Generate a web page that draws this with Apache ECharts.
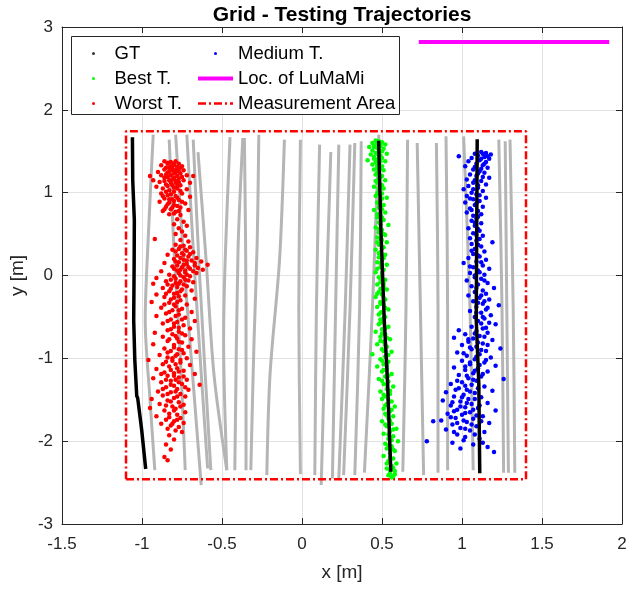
<!DOCTYPE html>
<html><head><meta charset="utf-8">
<script src="https://cdn.jsdelivr.net/npm/echarts@6/dist/echarts.min.js"></script>
<style>html,body{margin:0;padding:0;background:#fff}#chart{width:640px;height:589px}</style>
</head><body><div id="chart"></div><script>
// Axis ranges and ticks
const xTicks = {min: -1.5, max: 2, step: 0.5};
const yTicks = {min: -3, max: 3, step: 1};

// Measurement area corners (x0, x1, y0, y1)
const areaX = [-1.1, 1.4];
const areaY = [-2.46, 1.74];

// LuMaMi antenna array location
const lumamiX = [0.73, 1.92];
const lumamiY = [2.82, 2.82];

// Ground-truth paths
const gtLeft = [[-1.06,1.67],[-1.058,1.15],[-1.048,0.67],[-1.049,0.19],[-1.052,-0.54],[-1.045,-1.02],[-1.033,-1.455],[-1.027,-1.48],[-1.002,-1.865],[-0.977,-2.336]];
const gtBest = [[0.479,1.627],[0.493,0.549],[0.514,-0.537],[0.535,-1.302],[0.555,-2.369]];
const gtMedium = [[1.095,1.644],[1.089,-0.537],[1.105,-1.302],[1.111,-2.388]];

// All other testing trajectories (grey)
const greyTracks = [
  [[-0.93,1.70],[-0.96,0.5],[-0.98,-0.54],[-0.95,-1.5],[-0.92,-2.35]],
  [[-0.83,1.64],[-0.80,0.3],[-0.76,-1.0],[-0.73,-2.35]],
  [[-0.79,1.70],[-0.74,0.2],[-0.68,-1.3],[-0.63,-2.53]],
  [[-0.72,1.70],[-0.67,0.0],[-0.59,-2.33]],
  [[-0.68,1.64],[-0.64,0.0],[-0.57,-2.35]],
  [[-0.65,1.49],[-0.60,0.2],[-0.55,-1.2],[-0.47,-2.35]],
  [[-0.45,1.67],[-0.48,0.2],[-0.49,-0.8],[-0.47,-2.35]],
  [[-0.37,1.66],[-0.40,0.3],[-0.42,-2.35]],
  [[-0.36,1.66],[-0.35,-0.4],[-0.35,-2.35]],
  [[-0.27,1.70],[-0.28,0.4],[-0.30,-0.8],[-0.32,-2.35]],
  [[-0.11,1.64],[-0.14,0.2],[-0.20,-1.2],[-0.22,-2.41]],
  [[-0.01,1.64],[-0.02,-0.4],[-0.01,-2.40]],
  [[0.11,1.58],[0.09,-0.4],[0.08,-2.41]],
  [[0.18,1.49],[0.15,-0.4],[0.12,-2.53]],
  [[0.23,1.58],[0.21,-0.4],[0.19,-2.45]],
  [[0.30,1.58],[0.27,-0.4],[0.23,-2.45]],
  [[0.33,1.60],[0.30,-0.4],[0.26,-2.41]],
  [[0.37,1.62],[0.36,-0.4],[0.33,-2.41]],
  [[0.48,1.70],[0.44,-0.4],[0.39,-2.38]],
  [[0.66,1.64],[0.65,-0.4],[0.63,-2.37]],
  [[0.72,1.60],[0.74,-0.4],[0.76,-2.41]],
  [[0.84,1.60],[0.85,-0.4],[0.85,-2.38]],
  [[0.90,1.68],[0.91,-0.4],[0.91,-2.35]],
  [[1.01,1.68],[1.05,-0.4],[1.07,-2.35]],
  [[1.23,1.64],[1.25,-0.4],[1.26,-2.38]],
  [[1.27,1.62],[1.28,-0.4],[1.29,-2.38]],
  [[1.30,1.64],[1.32,-0.4],[1.33,-2.38]]
];

// Estimated positions, worst trajectory
const worstPts = [
[-0.86,1.38],[-0.82,1.37],[-0.79,1.38],[-0.84,1.35],[-0.77,1.35],[-0.88,1.33],[-0.80,1.33],[-0.75,1.32],[-0.83,1.30],[-0.78,1.29],[-0.86,1.28],[-0.81,1.27],[-0.74,1.27],[-0.90,1.25],[-0.79,1.25],[-0.84,1.24],[-0.76,1.23],[-0.95,1.20],[-0.88,1.21],[-0.82,1.21],[-0.72,1.21],[-0.68,1.20],[-0.86,1.18],[-0.80,1.18],[-0.77,1.17],[-0.93,1.15],[-0.83,1.15],[-0.74,1.15],[-0.89,1.13],[-0.79,1.12],[-0.70,1.12],[-0.85,1.10],[-0.81,1.09],[-0.76,1.09],[-0.91,1.07],[-0.87,1.05],[-0.78,1.05],[-0.72,1.04],[-0.83,1.03],[-0.80,1.01],[-0.88,0.99],[-0.75,0.99],[-0.84,0.97],[-0.79,0.96],[-0.70,0.95],[-0.86,0.93],[-0.81,0.92],[-0.77,0.91],[-0.89,0.89],[-0.83,0.88],[-0.73,0.87],[-0.80,0.85],[-0.85,0.83],[-0.76,0.82],[-0.82,0.80],[-0.71,0.79],[-0.87,0.78],[-0.79,0.77],[-0.83,0.74],[-0.76,0.73],
[-0.78,0.68],[-0.74,0.65],[-0.80,0.62],[-0.72,0.60],[-0.77,0.57],[-0.75,0.53],[-0.79,0.50],[-0.73,0.48],[-0.92,0.44],[-0.76,0.43],[-0.71,0.41],
[-0.79,0.37],[-0.74,0.36],[-0.70,0.34],[-0.77,0.32],[-0.81,0.31],[-0.72,0.30],[-0.68,0.28],[-0.75,0.27],[-0.84,0.25],[-0.78,0.24],[-0.71,0.23],[-0.66,0.21],[-0.80,0.20],[-0.74,0.19],[-0.69,0.18],[-0.63,0.17],[-0.77,0.16],[-0.86,0.15],[-0.72,0.14],[-0.59,0.13],[-0.67,0.12],[-0.81,0.11],[-0.75,0.10],[-0.70,0.08],[-0.62,0.07],[-0.78,0.06],[-0.88,0.05],[-0.73,0.04],[-0.66,0.03],[-0.83,0.01],[-0.76,0.00],[-0.70,-0.01],[-0.91,-0.03],[-0.79,-0.04],[-0.73,-0.05],[-0.85,-0.07],[-0.68,-0.08],[-0.93,-0.10],[-0.77,-0.10],[-0.81,-0.12],[-0.72,-0.13],[-0.87,-0.15],[-0.75,-0.17],[-0.69,-0.18],[-0.83,-0.19],[-0.78,-0.21],[-0.91,-0.23],[-0.73,-0.24],[-0.86,-0.26],[-0.80,-0.27],[-0.67,-0.28],[-0.76,-0.30],
[-0.94,-0.32],[-0.83,-0.33],[-0.72,-0.35],[-0.79,-0.37],[-0.88,-0.39],[-0.75,-0.40],[-0.81,-0.42],[-0.69,-0.44],[-0.85,-0.46],[-0.77,-0.47],[-0.91,-0.49],[-0.73,-0.51],[-0.82,-0.53],[-0.67,-0.55],[-0.78,-0.56],[-0.87,-0.58],[-0.74,-0.60],[-0.80,-0.62],[-0.70,-0.64],[-0.84,-0.66],[-0.77,-0.68],[-0.92,-0.69],
[-0.81,-0.71],[-0.73,-0.72],[-0.87,-0.74],[-0.78,-0.76],[-0.69,-0.77],[-0.84,-0.79],[-0.75,-0.81],[-0.93,-0.83],[-0.80,-0.84],[-0.71,-0.86],[-0.86,-0.88],[-0.77,-0.89],[-0.82,-0.91],[-0.66,-0.92],[-0.74,-0.94],[-0.89,-0.96],[-0.79,-0.97],[-0.84,-0.99],[-0.72,-1.00],[-0.96,-1.02],[-0.81,-1.03],[-0.76,-1.05],[-0.87,-1.07],[-0.70,-1.08],[-0.83,-1.10],[-0.78,-1.12],[-0.91,-1.13],[-0.74,-1.15],[-0.86,-1.17],[-0.80,-1.18],[-0.67,-1.19],[-0.84,-1.21],[-0.77,-1.23],[-0.93,-1.24],[-0.72,-1.26],[-0.82,-1.27],[-0.88,-1.29],[-0.75,-1.31],[-0.64,-1.32],[-0.80,-1.33],[-0.85,-1.35],[-0.78,-1.37],[-0.71,-1.38],[-0.90,-1.40],[-0.82,-1.41],[-0.76,-1.43],[-0.87,-1.45],[-0.73,-1.46],[-0.80,-1.48],[-0.94,-1.49],
[-0.84,-1.51],[-0.77,-1.53],[-0.89,-1.55],[-0.74,-1.56],[-0.81,-1.58],[-0.95,-1.60],[-0.79,-1.61],[-0.86,-1.63],[-0.73,-1.65],[-0.83,-1.67],[-0.78,-1.68],[-0.91,-1.70],[-0.76,-1.72],[-0.85,-1.74],[-0.80,-1.76],[-0.74,-1.78],[-0.88,-1.79],[-0.82,-1.81],[-0.77,-1.83],[-0.84,-1.85],[-0.79,-1.87],[-0.75,-1.89],
[-0.83,-1.93],[-0.80,-1.98],[-0.85,-2.04],[-0.82,-2.10],[-0.86,-2.19],[-0.84,-2.23],
[-0.84,1.36],[-0.80,1.35],[-0.78,1.31],[-0.82,1.32],[-0.85,1.30],[-0.76,1.30],[-0.81,1.29],[-0.79,1.27],[-0.83,1.26],[-0.77,1.26],[-0.85,1.22],[-0.80,1.23],[-0.78,1.20],[-0.84,1.19],[-0.75,1.19],[-0.81,1.16],[-0.79,1.14],[-0.86,1.14],[-0.77,1.13],[-0.82,1.12],[-0.84,1.08],[-0.78,1.08],[-0.80,1.06],[-0.76,1.02],[-0.85,1.01],[-0.82,0.98],[-0.78,0.94],[-0.87,0.96],[-0.83,0.92],[-0.80,0.90],[-0.75,0.89],[-0.84,0.86],[-0.78,0.84],[-0.81,0.82],[-0.86,0.80],[-0.77,0.78],[-0.80,0.75],
[-0.76,0.35],[-0.73,0.31],[-0.79,0.29],[-0.74,0.25],[-0.70,0.26],[-0.76,0.21],[-0.72,0.18],[-0.79,0.17],[-0.67,0.15],[-0.74,0.13],[-0.78,0.12],[-0.71,0.10],[-0.65,0.09],[-0.76,0.07],[-0.80,0.08],[-0.73,0.06],[-0.68,0.05],[-0.77,0.03],[-0.72,0.01],[-0.80,-0.01],[-0.74,-0.02],[-0.82,-0.05],[-0.76,-0.07],[-0.71,-0.06],[-0.79,-0.09],[-0.74,-0.11],[-0.84,-0.11],[-0.78,-0.14],[-0.82,-0.16],[-0.76,-0.19],[-0.80,-0.22],[-0.85,-0.22],[-0.77,-0.25],[-0.82,-0.29],[-0.78,-0.32],[-0.86,-0.35],[-0.80,-0.35],
[-0.77,-0.42],[-0.83,-0.44],[-0.79,-0.49],[-0.75,-0.53],[-0.84,-0.55],[-0.80,-0.58],[-0.77,-0.63],[-0.82,-0.65],[-0.75,-0.70],[-0.79,-0.73],[-0.83,-0.77],[-0.77,-0.80],[-0.80,-0.87],[-0.75,-0.90],[-0.84,-0.93],[-0.78,-0.95],[-0.81,-1.00],[-0.76,-1.02],[-0.85,-1.04],[-0.79,-1.07],[-0.82,-1.14],[-0.77,-1.16],[-0.88,-1.19],[-0.80,-1.21],[-0.74,-1.22],[-0.79,-1.26],[-0.85,-1.26],[-0.77,-1.29],[-0.82,-1.32],[-0.73,-1.35],[-0.87,-1.37],[-0.79,-1.40],[-0.84,-1.43],[-0.78,-1.46],[-0.82,-1.52],[-0.76,-1.58],[-0.85,-1.57],[-0.80,-1.63],[-0.83,-1.71],[-0.78,-1.74],[-0.81,-1.79]
];

// Estimated positions, best trajectory
const bestPts = [
[0.46,1.63],[0.48,1.62],[0.50,1.61],[0.44,1.60],[0.47,1.59],[0.52,1.58],[0.45,1.57],[0.49,1.56],[0.42,1.55],[0.47,1.54],[0.51,1.53],[0.44,1.51],[0.48,1.50],[0.46,1.48],[0.53,1.47],[0.43,1.46],[0.49,1.45],[0.45,1.43],[0.50,1.42],[0.47,1.40],[0.41,1.39],[0.52,1.38],[0.46,1.37],[0.48,1.35],[0.44,1.34],[0.50,1.32],[0.47,1.30],[0.45,1.28],[0.51,1.27],[0.48,1.25],
[0.46,1.22],[0.50,1.20],[0.48,1.17],[0.52,1.15],[0.47,1.12],[0.49,1.10],[0.45,1.07],[0.51,1.05],[0.48,1.02],[0.50,0.99],[0.46,0.96],[0.53,0.94],[0.49,0.91],[0.47,0.88],[0.51,0.85],[0.48,0.82],[0.45,0.79],[0.52,0.76],[0.49,0.73],[0.47,0.70],[0.51,0.67],[0.48,0.64],[0.54,0.61],[0.46,0.58],[0.50,0.55],[0.48,0.52],[0.52,0.49],[0.47,0.46],[0.50,0.43],[0.53,0.40],[0.48,0.37],[0.51,0.34],[0.46,0.31],[0.49,0.28],[0.52,0.25],[0.48,0.22],[0.50,0.19],[0.47,0.16],[0.53,0.13],[0.49,0.10],[0.51,0.07],[0.46,0.04],[0.50,0.01],[0.48,-0.02],[0.52,-0.05],[0.49,-0.08],[0.47,-0.11],[0.51,-0.14],[0.53,-0.17],[0.48,-0.20],[0.50,-0.23],[0.46,-0.26],[0.52,-0.29],[0.49,-0.32],[0.51,-0.35],[0.47,-0.38],[0.54,-0.41],[0.50,-0.44],[0.48,-0.47],[0.52,-0.50],[0.49,-0.53],
[0.51,-0.56],[0.48,-0.59],[0.54,-0.62],[0.50,-0.65],[0.46,-0.68],[0.52,-0.71],[0.49,-0.74],[0.55,-0.77],[0.51,-0.80],[0.47,-0.83],[0.53,-0.86],[0.50,-0.89],[0.56,-0.92],[0.44,-0.95],[0.52,-0.98],[0.49,-1.01],[0.54,-1.04],[0.51,-1.07],[0.47,-1.10],[0.53,-1.13],[0.50,-1.16],[0.56,-1.19],[0.52,-1.22],[0.48,-1.25],[0.54,-1.28],[0.51,-1.31],[0.57,-1.34],[0.53,-1.37],[0.49,-1.40],[0.55,-1.43],[0.52,-1.46],[0.50,-1.49],[0.56,-1.52],[0.53,-1.55],[0.58,-1.58],[0.51,-1.61],[0.55,-1.64],[0.52,-1.67],[0.57,-1.70],[0.54,-1.73],[0.50,-1.76],[0.56,-1.79],[0.53,-1.82],[0.59,-1.85],[0.55,-1.88],[0.51,-1.91],[0.57,-1.94],[0.54,-1.97],[0.60,-2.00],[0.52,-2.03],[0.56,-2.06],[0.53,-2.09],[0.58,-2.12],[0.55,-2.15],[0.51,-2.18],[0.57,-2.21],[0.54,-2.24],[0.59,-2.27],[0.56,-2.30],[0.53,-2.33],[0.58,-2.36],[0.55,-2.39],[0.57,-2.42],
[0.47,1.61],[0.49,1.58],[0.45,1.55],[0.50,1.50],[0.47,1.47],[0.45,1.41],[0.49,1.38],[0.47,1.33],[0.49,1.29],[0.47,1.24],[0.49,1.19],[0.46,1.14],[0.50,1.09],[0.48,1.05],[0.47,0.99],[0.50,0.93],[0.48,0.87],[0.50,0.80],[0.47,0.74],[0.50,0.70],[0.49,0.62],[0.48,0.56],[0.51,0.50],[0.49,0.44],[0.47,0.40],[0.50,0.33],[0.48,0.27],[0.51,0.21],[0.49,0.15],[0.47,0.08],[0.50,0.03],[0.49,-0.04],[0.51,-0.10],[0.49,-0.16],[0.47,-0.22],[0.51,-0.27],[0.49,-0.34],[0.52,-0.39],[0.49,-0.45],[0.51,-0.51],[0.49,-0.57],[0.52,-0.64],[0.50,-0.70],[0.53,-0.75],[0.49,-0.79],[0.52,-0.84],[0.51,-0.91],[0.54,-0.96],[0.50,-1.03],[0.53,-1.09],[0.51,-1.14],[0.54,-1.21],[0.50,-1.27],[0.53,-1.32],[0.55,-1.39],[0.51,-1.44],[0.54,-1.50],[0.52,-1.57],[0.56,-1.62],[0.53,-1.69],[0.55,-1.75],[0.52,-1.80],[0.57,-1.86],[0.54,-1.92],[0.56,-1.99],[0.54,-2.05],[0.57,-2.10],[0.55,-2.20],[0.53,-2.27],[0.57,-2.32],[0.55,-2.35],[0.58,-2.40],[0.54,-2.41],[0.56,-2.44]
];

// Estimated positions, medium trajectory
const mediumPts = [
[1.12,1.49],[1.15,1.48],[1.08,1.47],[1.18,1.46],[1.10,1.45],[0.98,1.44],[1.14,1.43],[1.06,1.42],[1.17,1.41],[1.11,1.39],[1.04,1.38],[1.15,1.37],[1.09,1.35],[1.13,1.33],[1.02,1.32],[1.16,1.30],[1.07,1.28],[1.11,1.26],[1.14,1.24],[1.05,1.22],[1.09,1.20],[1.17,1.18],[1.03,1.16],[1.12,1.14],[1.07,1.12],[1.15,1.10],[1.04,1.08],[1.10,1.06],[1.01,1.04],[1.13,1.02],[1.06,1.00],[1.09,0.98],[1.03,0.96],[1.15,0.94],[1.07,0.92],[1.11,0.90],[1.02,0.88],[1.08,0.85],[1.13,0.83],[1.05,0.81],[1.10,0.78],[1.03,0.76],[1.12,0.74],[1.07,0.72],[1.09,0.69],
[1.06,0.66],[1.12,0.63],[1.08,0.60],[1.04,0.57],[1.11,0.54],[1.07,0.51],[1.13,0.48],[1.05,0.45],[1.09,0.42],[1.19,0.40],[1.06,0.38],[1.12,0.35],[1.08,0.32],[1.14,0.29],
[1.07,0.26],[1.11,0.23],[1.04,0.21],[1.15,0.19],[1.09,0.17],[1.01,0.15],[1.13,0.12],[1.07,0.10],[1.17,0.08],[1.10,0.06],[1.05,0.03],[1.14,0.01],[1.08,-0.02],[1.12,-0.04],[1.03,-0.06],[1.16,-0.09],[1.10,-0.11],[1.06,-0.13],[1.20,-0.15],[1.13,-0.18],[1.08,-0.20],[1.15,-0.22],[1.04,-0.24],[1.11,-0.27],[1.17,-0.29],[1.07,-0.31],[1.13,-0.34],[1.23,-0.36],[1.09,-0.38],[1.15,-0.41],[1.05,-0.43],[1.12,-0.45],[1.18,-0.48],[1.08,-0.50],[1.14,-0.52],
[1.10,-0.55],[1.17,-0.57],[1.21,-0.59],[1.06,-0.62],[1.13,-0.64],[0.98,-0.66],[1.09,-0.67],[1.16,-0.69],[1.02,-0.71],[1.11,-0.73],[0.95,-0.75],[1.07,-0.76],[1.19,-0.78],[1.04,-0.80],[1.13,-0.82],[1.00,-0.84],[1.09,-0.86],[1.24,-0.88],[1.06,-0.89],[1.15,-0.91],[0.97,-0.93],[1.11,-0.95],[1.03,-0.97],[1.18,-0.99],[1.08,-1.01],[1.00,-1.03],[1.14,-1.05],[1.05,-1.07],[1.21,-1.09],[0.95,-1.11],[1.10,-1.12],[1.02,-1.14],[1.16,-1.16],[1.07,-1.18],[0.98,-1.20],[1.12,-1.22],[1.04,-1.24],[1.26,-1.25],[1.09,-1.27],[1.00,-1.29],
[0.93,-1.31],[1.06,-1.32],[1.14,-1.34],[0.98,-1.36],[1.03,-1.38],[1.19,-1.39],[0.90,-1.41],[1.08,-1.42],[1.01,-1.44],[0.95,-1.46],[1.12,-1.47],[1.04,-1.49],[0.88,-1.51],[0.99,-1.52],[1.16,-1.54],[1.06,-1.55],[0.93,-1.57],[1.02,-1.59],[1.10,-1.60],[0.97,-1.62],[1.21,-1.63],[1.05,-1.65],[0.91,-1.67],[1.00,-1.68],[1.13,-1.70],[0.82,-1.76],[0.96,-1.72],[1.07,-1.73],[0.87,-1.75],[1.03,-1.77],[1.17,-1.78],[0.94,-1.80],[1.09,-1.82],[0.99,-1.84],[0.90,-1.86],[1.05,-1.87],[1.14,-1.89],
[0.97,-1.92],[1.02,-1.95],[1.11,-1.97],[0.78,-2.00],[0.94,-2.02],[1.07,-2.04],[1.16,-2.07],[0.99,-2.09],[1.20,-2.13],
[1.13,1.47],[1.16,1.44],[1.12,1.41],[1.14,1.35],[1.08,1.31],[1.12,1.29],[1.10,1.23],[1.13,1.19],[1.08,1.15],[1.10,1.09],[1.07,1.04],[1.11,0.97],[1.05,0.93],[1.09,0.87],[1.06,0.79],[1.10,0.71],[1.08,0.64],[1.10,0.56],[1.09,0.49],[1.11,0.44],[1.10,0.37],[1.06,0.30],[1.10,0.24],[1.12,0.16],[1.05,0.11],[1.11,0.04],[1.08,0.00],[1.14,-0.06],[1.09,-0.15],[1.12,-0.24],[1.14,-0.31],[1.10,-0.33],[1.16,-0.39],[1.09,-0.45],[1.13,-0.50],[1.12,-0.58],[1.15,-0.63],[1.08,-0.70],[1.14,-0.74],[1.04,-0.77],[1.10,-0.81],[1.16,-0.84],[1.05,-0.87],[1.12,-0.90],[1.01,-0.94],[1.09,-0.98],[1.15,-1.02],[1.05,-1.05],[1.11,-1.08],[1.02,-1.10],[1.08,-1.15],[1.13,-1.19],[1.03,-1.21],[1.07,-1.26],[0.97,-1.27],[1.02,-1.33],[1.10,-1.36],[0.96,-1.38],[1.05,-1.40],[1.00,-1.47],[1.08,-1.49],[0.94,-1.53],[1.03,-1.54],[1.11,-1.57],[0.99,-1.58],[1.07,-1.62],[0.95,-1.64],[1.02,-1.66],[1.09,-1.69],[0.93,-1.71],[1.01,-1.75],[1.12,-1.76],[0.97,-1.78],[1.06,-1.80],[1.02,-1.85],[0.95,-1.89],[1.08,-1.92],[1.01,-1.99],[1.13,-2.02]
];

const FONT = 'Liberation Sans, Arial, Helvetica, sans-serif';
const AXIS_COLOR = '#262626';

function boxAxis(pos, range, showLabels, extra) {
  return Object.assign({
    type: 'value', position: pos,
    min: range.min, max: range.max, interval: range.step,
    axisLine: {show: true, onZero: false, lineStyle: {color: AXIS_COLOR, width: 1}},
    axisTick: {show: true, inside: true, length: 6, lineStyle: {color: AXIS_COLOR, width: 1}},
    axisLabel: {show: showLabels, color: AXIS_COLOR, fontSize: 17, fontFamily: FONT},
    splitLine: {show: showLabels, lineStyle: {color: '#e2e2e2', width: 1}}
  }, extra || {});
}

const areaPath = [
  [areaX[0], areaY[0]], [areaX[1], areaY[0]], [areaX[1], areaY[1]],
  [areaX[0], areaY[1]], [areaX[0], areaY[0]]
];

const series = [];
greyTracks.forEach((t, i) => series.push({
  type: 'line', name: 'track ' + (i + 1), data: t, symbol: 'none', silent: true,
  smooth: 0.3, lineStyle: {color: '#b5b5b5', width: 3}, z: 2
}));
series.push({type: 'line', name: 'Measurement Area', data: areaPath, symbol: 'none',
  lineStyle: {color: '#ff0000', width: 2.5, type: [8, 3, 2, 3]}, itemStyle: {color: '#ff0000'}, z: 3});
series.push({type: 'line', name: 'Loc. of LuMaMi',
  data: lumamiX.map((x, i) => [x, lumamiY[i]]), symbol: 'none',
  lineStyle: {color: '#ff00ff', width: 4}, itemStyle: {color: '#ff00ff'}, z: 3});
series.push({type: 'scatter', name: 'GT', data: [], symbolSize: 4, itemStyle: {color: '#000'}});
series.push({type: 'scatter', name: 'Worst T.', data: worstPts, symbolSize: 4.5, itemStyle: {color: '#ff0000', opacity: 1}, z: 4});
series.push({type: 'scatter', name: 'Best T.', data: bestPts, symbolSize: 4.5, itemStyle: {color: '#00ff00', opacity: 1}, z: 4});
series.push({type: 'scatter', name: 'Medium T.', data: mediumPts, symbolSize: 4.5, itemStyle: {color: '#0000ff', opacity: 1}, z: 4});
[gtLeft, gtBest, gtMedium].forEach((p, i) => series.push({
  type: 'line', name: 'GT path ' + (i + 1), data: p, symbol: 'none',
  lineStyle: {color: '#000', width: 3.5}, z: 5
}));

const legendCommon = {
  orient: 'vertical', top: 41, padding: 0, itemGap: 0, itemHeight: 3,
  selectedMode: false, z: 20,
  textStyle: {fontSize: 18.5, lineHeight: 25, color: '#000', fontFamily: FONT},
  lineStyle: {width: 'inherit'}
};

const chart = echarts.init(document.getElementById('chart'), null, {renderer: 'canvas'});
chart.setOption({
  animation: false,
  backgroundColor: '#fff',
  title: {
    text: 'Grid - Testing Trajectories', left: 337, top: 0, textAlign: 'center',
    textStyle: {fontSize: 21, fontWeight: 'bold', color: '#000', fontFamily: FONT}
  },
  grid: {left: 60, right: 18, top: 27, bottom: 65, containLabel: false},
  xAxis: [
    boxAxis('bottom', xTicks, true, {
      name: 'x [m]', nameLocation: 'middle', nameGap: 39,
      nameTextStyle: {fontSize: 19, color: AXIS_COLOR, fontFamily: FONT},
      axisLabel: {show: true, color: AXIS_COLOR, fontSize: 17, fontFamily: FONT, margin: 12}
    }),
    boxAxis('top', xTicks, false)
  ],
  yAxis: [
    boxAxis('left', yTicks, true, {
      name: 'y [m]', nameLocation: 'middle', nameGap: 23,
      nameTextStyle: {fontSize: 19, color: AXIS_COLOR, fontFamily: FONT},
      axisLabel: {show: true, color: AXIS_COLOR, fontSize: 17, fontFamily: FONT, margin: 9}
    }),
    boxAxis('right', yTicks, false)
  ],
  legend: [
    Object.assign({}, legendCommon, {left: 92, itemWidth: 32,
      data: [{name: 'GT'}, {name: 'Best T.'}, {name: 'Worst T.'}]}),
    Object.assign({}, legendCommon, {left: 196, itemWidth: 35,
      data: [{name: 'Medium T.'},
             {name: 'Loc. of LuMaMi', itemStyle: {opacity: 0}},
             {name: 'Measurement Area', itemStyle: {opacity: 0}}]})
  ],
  graphic: [{
    type: 'rect', z: 10, silent: true,
    shape: {x: 71.5, y: 36.5, width: 328, height: 78},
    style: {fill: '#fff', stroke: AXIS_COLOR, lineWidth: 1}
  }],
  series: series
});
</script></body></html>
